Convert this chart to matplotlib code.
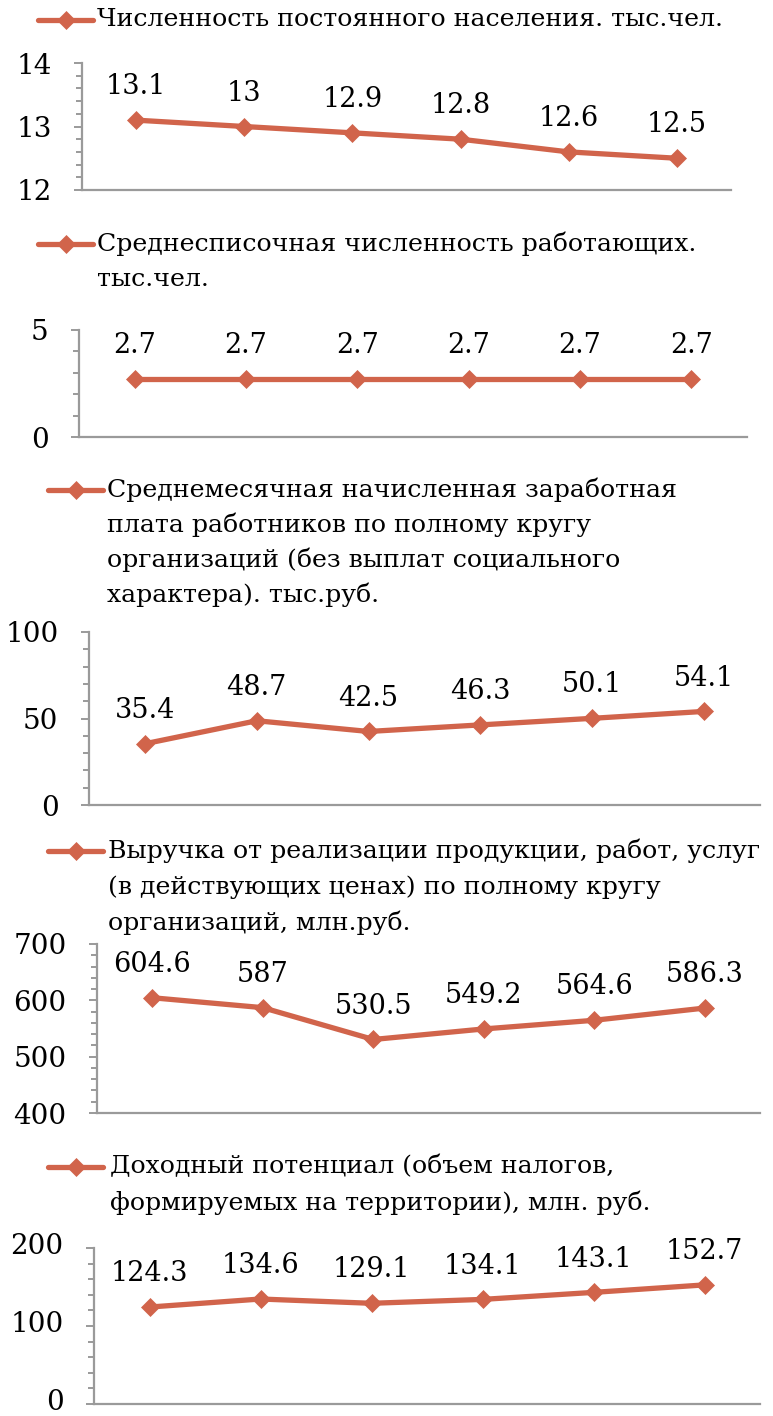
import matplotlib
matplotlib.use("Agg")
import matplotlib.pyplot as plt
import matplotlib.transforms as mtransforms
from matplotlib.lines import Line2D
from matplotlib.ticker import MultipleLocator

plt.rcParams['font.family'] = ['DejaVu Serif']

W, H = 773, 1416
COLOR = '#D1644B'

categories = ['1', '2', '3', '4', '5', '6']

title1 = ["Численность постоянного населения. тыс.чел."]
values1 = [13.1, 13.0, 12.9, 12.8, 12.6, 12.5]

title2 = ["Среднесписочная численность работающих.", "тыс.чел."]
values2 = [2.7, 2.7, 2.7, 2.7, 2.7, 2.7]

title3 = ["Среднемесячная начисленная заработная",
          "плата работников по полному кругу",
          "организаций (без выплат социального",
          "характера). тыс.руб."]
values3 = [35.4, 48.7, 42.5, 46.3, 50.1, 54.1]

title4 = ["Выручка от реализации продукции, работ, услуг",
          "(в действующих ценах) по полному кругу",
          "организаций, млн.руб."]
values4 = [604.6, 587.0, 530.5, 549.2, 564.6, 586.3]

title5 = ["Доходный потенциал (объем налогов,",
          "формируемых на территории), млн. руб."]
values5 = [124.3, 134.6, 129.1, 134.1, 143.1, 152.7]

panels = [
    # values, title, ylim, major, minor, axes box(l, r, top, bottom), legend(x0, x1, y, textx, dy)
    (values1, title1, (12, 14), 1, 0.2, (82, 731, 63, 190), (38, 93, 20, 97, 36), '{:g}'),
    (values2, title2, (0, 5), 5, 1, (79, 747, 330, 437), (38, 93, 244, 97, 36), '{:g}'),
    (values3, title3, (0, 100), 50, 10, (89, 760, 632, 805), (48, 103, 490, 107, 35), '{:g}'),
    (values4, title4, (400, 700), 100, 20, (97, 760, 944, 1113), (48, 103, 851, 108, 36), '{:g}'),
    (values5, title5, (0, 200), 100, 20, (94, 760, 1248, 1404), (48, 103, 1167, 110, 36), '{:g}'),
]

FS_LEG = 18.2
FS_TICK = 20
FS_LAB = 19.5
LW = 3.8
MS = 9.5

fig = plt.figure(figsize=(W / 100, H / 100), dpi=100)

for k, (vals, title, ylim, major, minor, box, leg, fmt) in enumerate(panels):
    l, r, t, b = box
    ax = fig.add_axes([l / W, 1 - b / H, (r - l) / W, (b - t) / H])
    x = list(range(len(categories)))
    ax.plot(x, vals, color=COLOR, lw=LW, marker='D', ms=MS, mew=0.5, solid_capstyle='round')
    for xi, v in zip(x, vals):
        ax.annotate(fmt.format(v), (xi, v), xytext=(0, 24), textcoords='offset points',
                    ha='center', va='center', fontsize=FS_LAB, color='black')
    ax.set_xlim(-0.5, len(categories) - 0.5)
    ax.set_ylim(*ylim)
    ax.set_xticks([])
    ax.yaxis.set_major_locator(MultipleLocator(major))
    ax.yaxis.set_minor_locator(MultipleLocator(minor))
    for s in ['top', 'right']:
        ax.spines[s].set_visible(False)
    for s in ['left', 'bottom']:
        ax.spines[s].set_color('#9A9A9A')
        ax.spines[s].set_linewidth(1.6)
    ax.tick_params(axis='y', which='major', length=6, width=1.4, color='#9A9A9A',
                   labelsize=FS_TICK, pad=16)
    ax.tick_params(axis='y', which='minor', length=4.5, width=1.4, color='#9A9A9A')
    ax.patch.set_alpha(0)
    if k == len(panels) - 1:
        fig.canvas.draw()
        shift = mtransforms.ScaledTranslation(0, 4 / 100, fig.dpi_scale_trans)
        for lab in ax.get_yticklabels():
            lab.set_transform(lab.get_transform() + shift)

    # legend entry
    x0, x1, y, tx, dy = leg
    fig.add_artist(Line2D([x0 / W, x1 / W], [1 - y / H, 1 - y / H], transform=fig.transFigure,
                          color=COLOR, lw=LW, solid_capstyle='round'))
    fig.add_artist(Line2D([(x0 + x1) / 2 / W], [1 - y / H], transform=fig.transFigure,
                          color=COLOR, marker='D', ms=MS, mew=0.5, lw=0))
    for i, line in enumerate(title):
        fig.text(tx / W, 1 - (y + i * dy) / H, line, ha='left', va='center',
                 fontsize=FS_LEG, color='black')

fig.savefig('out.png', dpi=100)
